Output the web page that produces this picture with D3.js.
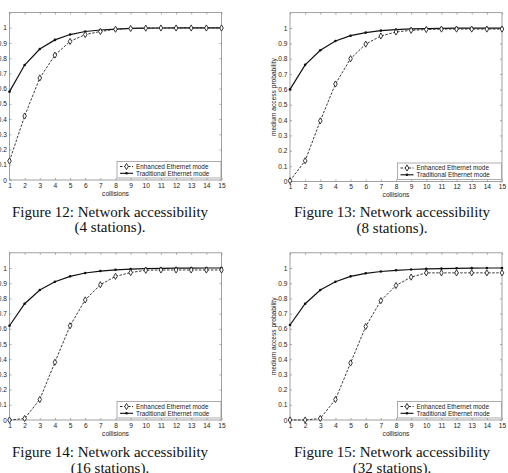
<!DOCTYPE html>
<html><head><meta charset="utf-8">
<script src="https://cdn.jsdelivr.net/npm/d3@7"></script>
<style>body{margin:0;background:#fff}svg{display:block}</style>
</head><body>
<script>
const collisions = [1,2,3,4,5,6,7,8,9,10,11,12,13,14,15];
const yTicks = [0,0.1,0.2,0.3,0.4,0.5,0.6,0.7,0.8,0.9,1];
const seriesNames = ["Enhanced Ethernet mode","Traditional Ethernet mode"];
const captions = [
  ["Figure 12: Network accessibility","(4 stations)."],
  ["Figure 13: Network accessibility","(8 stations)."],
  ["Figure 14: Network accessibility","(16 stations)."],
  ["Figure 15: Network accessibility","(32 stations)."]
];
const enh4  = [0.125,0.42,0.67,0.82,0.91,0.955,0.975,0.99,0.995,0.997,0.998,0.998,0.998,0.998,0.998];
const trad4 = [0.58,0.755,0.86,0.92,0.955,0.975,0.985,0.99,0.995,0.997,0.998,0.999,0.999,0.999,0.999];
const enh8  = [0.005,0.135,0.395,0.635,0.80,0.895,0.948,0.974,0.985,0.99,0.993,0.993,0.993,0.993,0.993];
const trad8 = [0.60,0.76,0.855,0.915,0.95,0.97,0.983,0.99,0.994,0.996,0.998,0.999,0.999,0.999,0.999];
const enh16 = [0.0,0.01,0.135,0.38,0.62,0.79,0.89,0.945,0.97,0.985,0.987,0.987,0.987,0.987,0.987];
const trad16= [0.62,0.765,0.855,0.91,0.945,0.967,0.98,0.988,0.993,0.996,0.998,0.999,0.999,1,1];
const enh32 = [0.0,0.0,0.01,0.135,0.375,0.615,0.785,0.885,0.94,0.968,0.968,0.968,0.968,0.968,0.968];
const trad32= [0.625,0.765,0.855,0.91,0.945,0.965,0.977,0.985,0.99,0.994,0.996,0.998,0.999,1,1];

const panels = [
  {enh:enh4, trad:trad4, x0:9.5, x1:221.5, y0:180, yUnit:152.3, ylabel:false, cap:captions[0], capX:110, capY:216.5},
  {enh:enh8, trad:trad8, x0:290, x1:502, y0:181.5, yUnit:153.5, ylabel:true, cap:captions[1], capX:392, capY:217},
  {enh:enh16, trad:trad16, x0:9.5, x1:221.5, y0:420, yUnit:152, ylabel:false, cap:captions[2], capX:110, capY:457},
  {enh:enh32, trad:trad32, x0:290, x1:502, y0:420, yUnit:152, ylabel:true, cap:captions[3], capX:392, capY:457}
];

const svg = d3.select("body").append("svg").attr("width",508).attr("height",473);
const axisCol = "#8a8a8a", ink = "#222";
const sans = "Liberation Sans, Arial, sans-serif";

panels.forEach(p => {
  const x = d3.scaleLinear().domain([1,15]).range([p.x0,p.x1]);
  const yTop = p.y0 - 1.1*p.yUnit;
  const y = d3.scaleLinear().domain([0,1.1]).range([p.y0,yTop]);
  const g = svg.append("g");
  g.append("rect").attr("x",p.x0).attr("y",yTop).attr("width",p.x1-p.x0).attr("height",p.y0-yTop)
    .attr("fill","none").attr("stroke",axisCol).attr("stroke-width",0.8);
  const ax = d3.axisBottom(x).tickValues(collisions).tickSize(-2).tickPadding(3).tickFormat(d3.format("d"));
  const gx = g.append("g").attr("transform",`translate(0,${p.y0})`).call(ax);
  const axT = d3.axisTop(x).tickValues(collisions).tickSize(-2).tickFormat("");
  const gxt = g.append("g").attr("transform",`translate(0,${yTop})`).call(axT);
  const ay = d3.axisLeft(y).tickValues(yTicks).tickSize(-2).tickPadding(2.5).tickFormat(d3.format("~g"));
  const gy = g.append("g").attr("transform",`translate(${p.x0},0)`).call(ay);
  const ayr = d3.axisRight(y).tickValues(yTicks).tickSize(-2).tickFormat("");
  const gyr = g.append("g").attr("transform",`translate(${p.x1},0)`).call(ayr);
  [gx,gxt,gy,gyr].forEach(a => {
    a.select(".domain").remove();
    a.selectAll("line").attr("stroke",axisCol).attr("stroke-width",0.7);
    a.selectAll("text").attr("font-family",sans).attr("font-size",6.6).attr("fill",ink);
  });
  g.append("text").attr("x",(p.x0+p.x1)/2).attr("y",p.y0+15.5).attr("text-anchor","middle")
    .attr("font-family",sans).attr("font-size",6.6).attr("fill",ink).text("collisions");
  if (p.ylabel) {
    g.append("text").attr("transform",`translate(${p.x0-14},${y(0.55)}) rotate(-90)`).attr("text-anchor","middle")
      .attr("font-family",sans).attr("font-size",6.6).attr("fill",ink).text("medium access probability");
  }
  const line = d3.line().x((d,i)=>x(collisions[i])).y(d=>y(d));
  g.append("path").datum(p.trad).attr("d",line).attr("fill","none").attr("stroke","#111").attr("stroke-width",1.2);
  g.selectAll(".dot").data(p.trad).join("circle").attr("cx",(d,i)=>x(collisions[i])).attr("cy",d=>y(d)).attr("r",1.3).attr("fill","#111");
  g.append("path").datum(p.enh).attr("d",line).attr("fill","none").attr("stroke","#222").attr("stroke-width",0.9).attr("stroke-dasharray","2.5,1.5");
  const dia = d3.symbol().type(d3.symbolDiamond).size(11);
  g.selectAll(".dia").data(p.enh).join("path").attr("d",dia)
    .attr("transform",(d,i)=>`translate(${x(collisions[i])},${y(d)})`).attr("fill","#fff").attr("stroke","#222").attr("stroke-width",0.9);
  const lw = 104, lh = 16.5;
  const lx = p.x1 - lw - 0.5, ly = p.y0 - lh - 2;
  g.append("rect").attr("x",lx).attr("y",ly).attr("width",lw).attr("height",lh).attr("fill","#fff").attr("stroke",axisCol).attr("stroke-width",0.7);
  seriesNames.forEach((nm,i) => {
    const yy = ly + 5 + i*6.8;
    g.append("line").attr("x1",lx+3).attr("x2",lx+16).attr("y1",yy).attr("y2",yy).attr("stroke","#111")
      .attr("stroke-width",i===0?0.9:1.1).attr("stroke-dasharray",i===0?"2.5,1.5":null);
    if (i===0) g.append("path").attr("d",dia).attr("transform",`translate(${lx+9.5},${yy})`).attr("fill","#fff").attr("stroke","#222").attr("stroke-width",0.9);
    else g.append("circle").attr("cx",lx+9.5).attr("cy",yy).attr("r",1.3).attr("fill","#111");
    g.append("text").attr("x",lx+19).attr("y",yy+2.2).attr("font-family",sans)
      .attr("font-size",6.4).attr("fill",ink).text(nm);
  });
  p.cap.forEach((c,i) => {
    g.append("text").attr("x",p.capX).attr("y",p.capY + i*15.5).attr("text-anchor","middle")
      .attr("font-family","Liberation Serif, Times New Roman, serif").attr("font-size",15).attr("fill","#111").text(c);
  });
});
</script>
</body></html>
